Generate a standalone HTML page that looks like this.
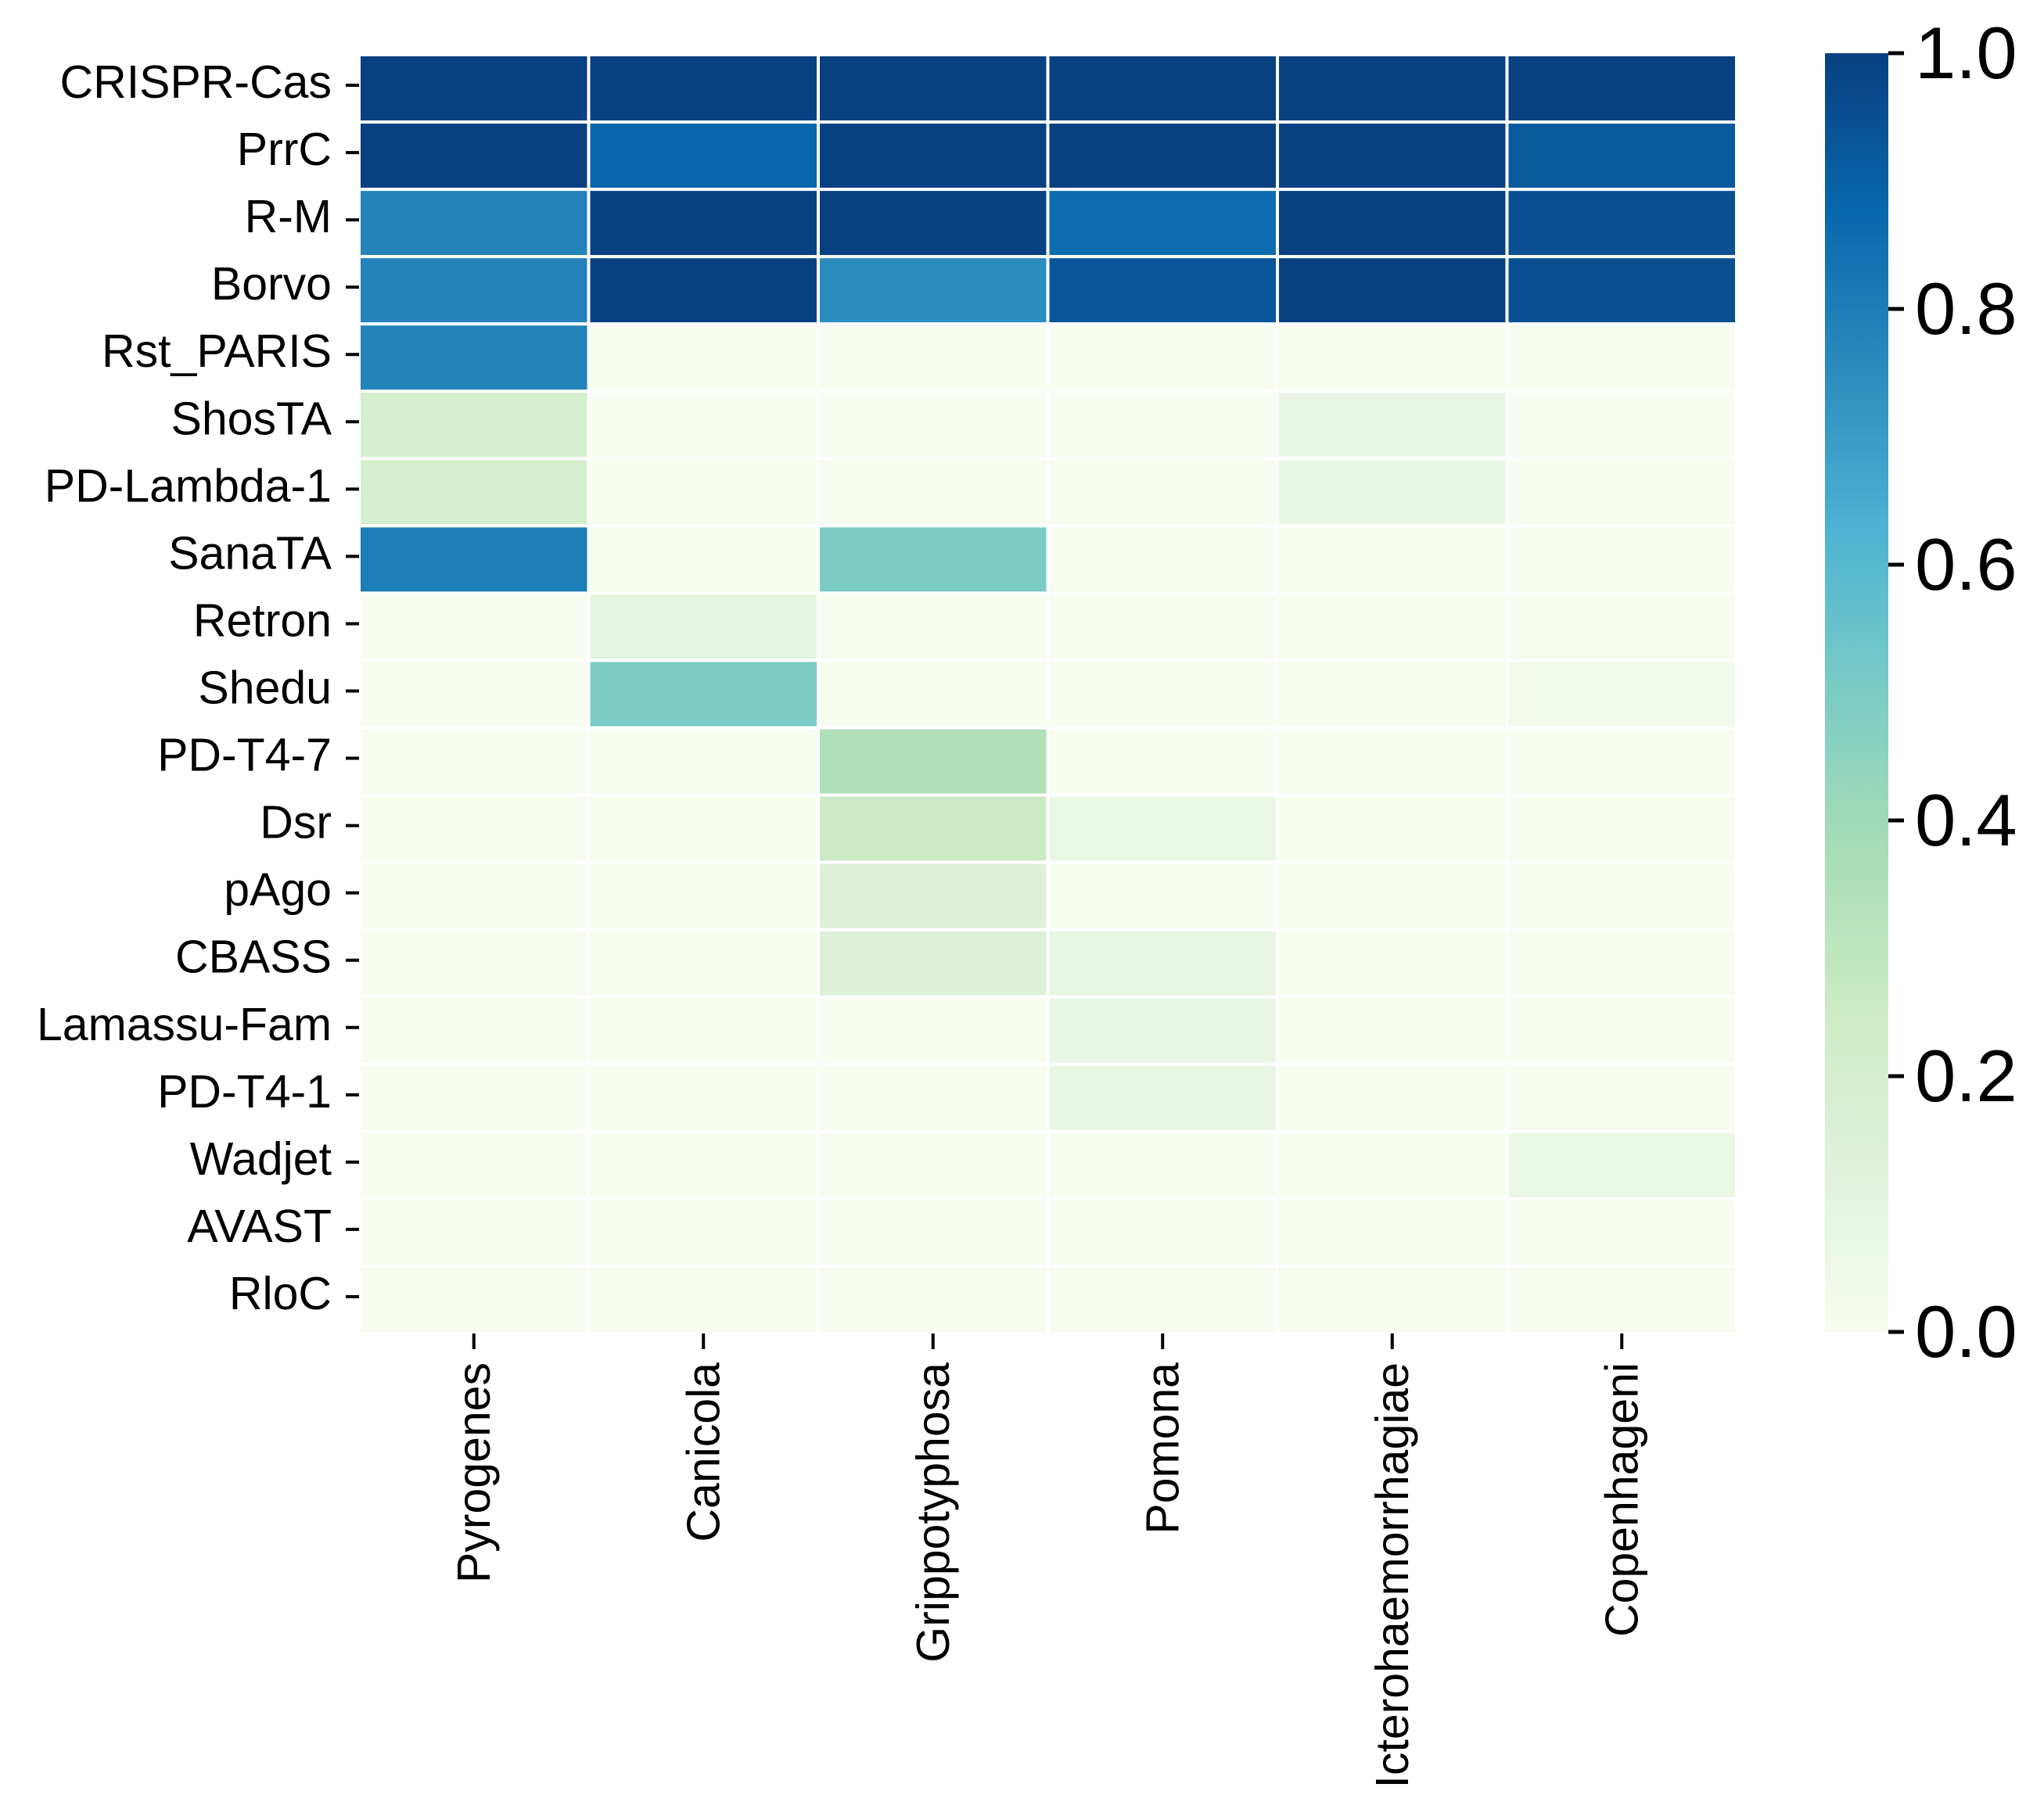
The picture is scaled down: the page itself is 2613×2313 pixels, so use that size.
<!DOCTYPE html>
<html><head><meta charset="utf-8"><style>
html,body{margin:0;padding:0;background:#fff;}
svg{display:block;font-family:"Liberation Sans",Arial,sans-serif;}
</style></head><body>
<svg id="chart" width="2613" height="2313" viewBox="0 0 2613 2313" xmlns="http://www.w3.org/2000/svg">
<defs>
<linearGradient id="gnbu" x1="0" y1="1" x2="0" y2="0">
<stop offset="0" stop-color="#f7fcf0"/><stop offset="0.125" stop-color="#e0f3db"/><stop offset="0.25" stop-color="#ccebc5"/><stop offset="0.375" stop-color="#a8ddb5"/><stop offset="0.5" stop-color="#7bccc4"/><stop offset="0.625" stop-color="#4eb3d3"/><stop offset="0.75" stop-color="#2b8cbe"/><stop offset="0.875" stop-color="#0868ac"/><stop offset="1" stop-color="#084081"/>
</linearGradient>
</defs>
<g id="cells"></g>
<g id="yaxis"></g>
<g id="xaxis"></g>
<g id="cbar">
<rect x="2333" y="68" width="81" height="1635" fill="url(#gnbu)"/>
</g>
</svg>
<script>
const rows = ["CRISPR-Cas","PrrC","R-M","Borvo","Rst_PARIS","ShosTA","PD-Lambda-1","SanaTA","Retron","Shedu","PD-T4-7","Dsr","pAgo","CBASS","Lamassu-Fam","PD-T4-1","Wadjet","AVAST","RloC"];
const cols = ["Pyrogenes","Canicola","Grippotyphosa","Pomona","Icterohaemorrhagiae","Copenhageni"];
const values = [
[1,1,1,1,1,1],
[1,0.88,1,1,1,0.92],
[0.78,1,1,0.86,1,0.95],
[0.78,1,0.75,0.93,1,0.95],
[0.78,0,0,0,0,0],
[0.2,0,0,0,0.08,0],
[0.2,0,0,0,0.08,0],
[0.8,0,0.5,0,0,0],
[0,0.1,0,0,0,0],
[0,0.5,0,0,0,0.03],
[0,0,0.35,0,0,0],
[0,0,0.25,0.07,0,0],
[0,0,0.15,0,0,0],
[0,0,0.15,0.08,0,0],
[0,0,0,0.08,0,0],
[0,0,0,0.08,0,0],
[0,0,0,0,0,0.07],
[0,0,0,0,0,0],
[0,0,0,0,0,0]
];
const cbTicks = [0,0.2,0.4,0.6,0.8,1.0];
const cbLabels = ["0.0","0.2","0.4","0.6","0.8","1.0"];

const NS="http://www.w3.org/2000/svg";
const L=459,R=2220,T=70,B=1705;
const cw=(R-L)/cols.length, rh=(B-T)/rows.length;
const xPos=i=>L+i*cw, yPos=j=>T+j*rh;
const stops=["#f7fcf0","#e0f3db","#ccebc5","#a8ddb5","#7bccc4","#4eb3d3","#2b8cbe","#0868ac","#084081"];
function hex(c){return [1,3,5].map(k=>parseInt(c.substr(k,2),16));}
function color(v){v=Math.max(0,Math.min(1,v));const p=v*8,i=Math.min(7,Math.floor(p)),f=p-i;const a=hex(stops[i]),b=hex(stops[i+1]);return "rgb("+a.map((x,k)=>Math.round(x+(b[k]-x)*f)).join(",")+")";}
function mk(t,attrs,parent){const e=document.createElementNS(NS,t);for(const k in attrs)e.setAttribute(k,attrs[k]);parent.appendChild(e);return e;}
const cells=document.getElementById('cells');
values.forEach((row,j)=>row.forEach((v,i)=>{
  const r=mk('rect',{x:xPos(i),y:yPos(j),width:cw,height:rh,fill:color(v),stroke:'#fff','stroke-width':4},cells);
  
  
}));
const ya=document.getElementById('yaxis');
rows.forEach((n,j)=>{
  const y=yPos(j)+rh/2;
  const t=mk('text',{x:424,y:y+12,'text-anchor':'end','font-size':59,fill:'#000'},ya);
  t.textContent=n;
  
  
  const l=mk('line',{x1:442,x2:459,y1:y-4,y2:y-4,stroke:'#000','stroke-width':4},ya);
  
  
});
const xa=document.getElementById('xaxis');
cols.forEach((n,i)=>{
  const x=xPos(i)+cw/2;
  const l=mk('line',{x1:x,x2:x,y1:1705,y2:1725,stroke:'#000','stroke-width':4},xa);
  
  
  const t=mk('text',{x:0,y:0,'text-anchor':'end','font-size':59,fill:'#000',transform:'translate('+(x+20)+',1742) rotate(-90)'},xa);
  t.textContent=n;
  
  
});
const cb=document.getElementById('cbar');
cbTicks.forEach((v,k)=>{
  const y=1703-v*(1703-68);
  const l=mk('line',{x1:2414,x2:2434,y1:y,y2:y,stroke:'#000','stroke-width':5},cb);
  
  
  const t=mk('text',{x:2448,y:y+32,'font-size':94,fill:'#000'},cb);
  t.textContent=cbLabels[k];
  
  
});
</script>
</body></html>
